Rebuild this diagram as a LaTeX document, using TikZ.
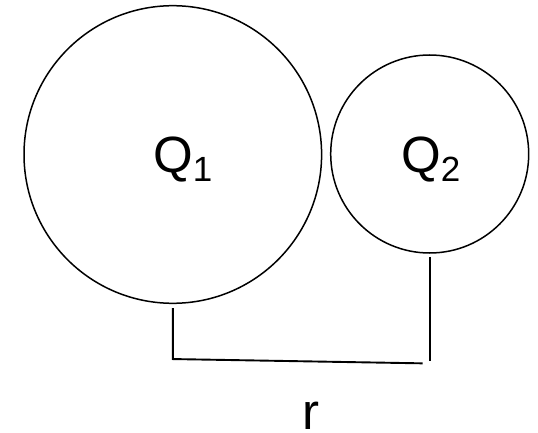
\documentclass[tikz,border=0pt]{standalone}
\usepackage{fontspec}
\setmainfont{Liberation Sans}
\usetikzlibrary{calc,positioning}

\begin{document}
\begin{tikzpicture}[x=1pt,y=-1pt,
      charge/.style={circle,draw,line width=1.5pt,inner sep=0pt},
      lbl/.style={anchor=base west,inner sep=0pt,font=\fontsize{51}{51}\selectfont},
      bracket/.style={line width=1.9pt}]
      \useasboundingbox (0,0) rectangle (538,433);
      \node[charge,minimum size=297.6pt] (q1) at (172.8,154.5) {};
      \node[charge,minimum size=198pt] (q2) at (429.7,154) {};
      \node[lbl] (l1) at (153,172) {Q\raisebox{-9pt}{\fontsize{35}{35}\selectfont 1}};
      \node[lbl] (l2) at (401,172) {Q\raisebox{-9pt}{\fontsize{35}{35}\selectfont 2}};
      \draw[bracket] ([yshift=-3pt]q2.south) -- ++(0,104) coordinate (c2);
      \draw[bracket] ([yshift=-4pt]q1.south) -- ++(0,51) coordinate (c1)
        -- ([shift={(-7pt,-2.6pt)}]c2);
      \node[lbl] (r) at (302.6,429.5) {r};
    \end{tikzpicture}
\end{document}
